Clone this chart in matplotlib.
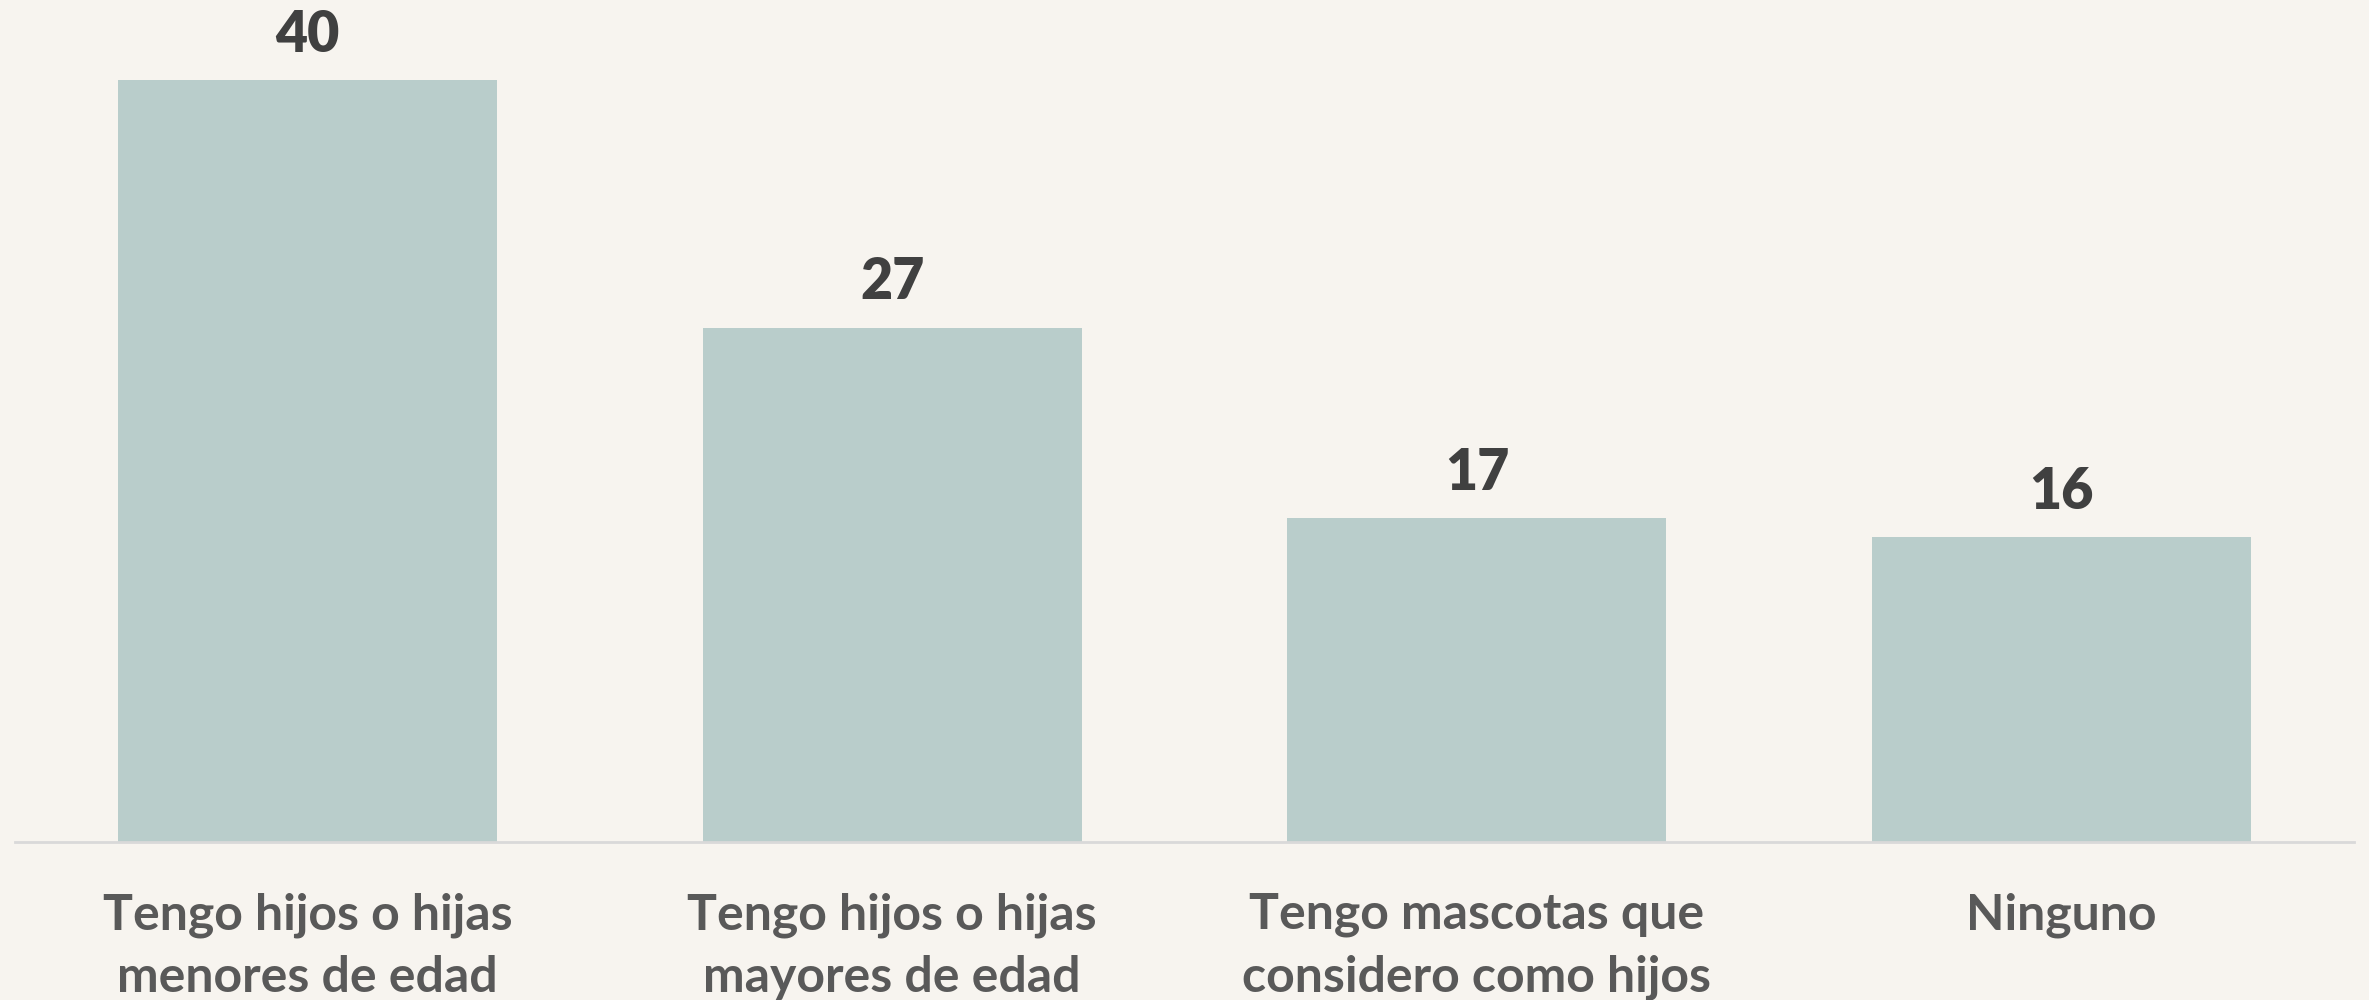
import matplotlib.pyplot as plt
import numpy as np

categories = ["Tengo hijos o hijas\nmenores de edad",
              "Tengo hijos o hijas\nmayores de edad",
              "Tengo mascotas que\nconsidero como hijos",
              "Ninguno"]
values = [40, 27, 17, 16]

bg = '#F7F4EF'
plt.rcParams['font.family'] = ['Lato', 'DejaVu Sans']

fig = plt.figure(figsize=(23.69, 10), dpi=100, facecolor=bg)
ax = fig.add_axes([0.0063, 0.158, 0.9874, 0.842])
ax.set_facecolor(bg)

x = np.arange(len(categories))
bars = ax.bar(x, values, width=0.648, color='#B9CDCB', zorder=2)

# Value labels above each bar.
ax.bar_label(bars, labels=[str(v) for v in values], padding=14,
             fontsize=40, fontweight='heavy', color='#404040')

ax.set_xlim(-0.5, 3.5)
ax.set_ylim(0, 44.2)

# Only a light baseline, no other spines or y ticks.
for side in ['top', 'right', 'left']:
    ax.spines[side].set_visible(False)
ax.spines['bottom'].set_color('#D9D9D9')
ax.spines['bottom'].set_linewidth(2)
ax.set_yticks([])

ax.set_xticks(x)
ax.set_xticklabels(categories, fontsize=36, fontweight='bold', color='#595959',
                   linespacing=1.47)
ax.tick_params(axis='x', length=0, pad=36)

fig.savefig('out.png', dpi=100, facecolor=bg)
